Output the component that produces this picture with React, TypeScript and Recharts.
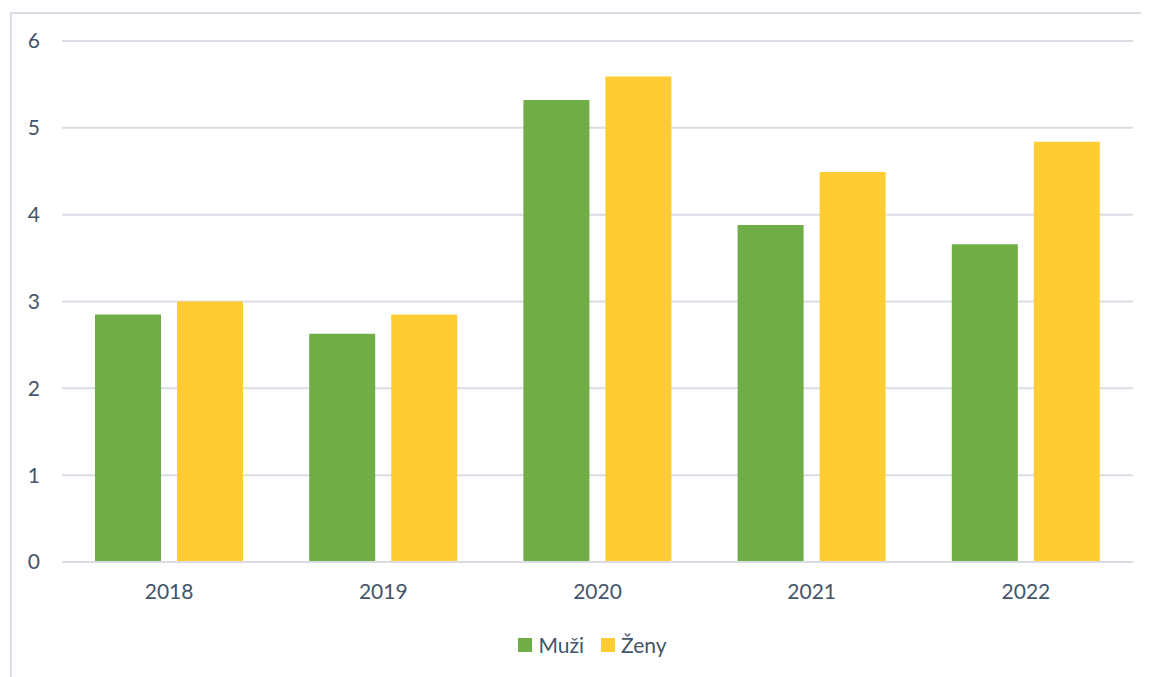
import React from "react";
import { BarChart, Bar, XAxis, YAxis, CartesianGrid, Legend } from "recharts";

const years = ["2018", "2019", "2020", "2021", "2022"];
const muzi = [2.85, 2.63, 5.32, 3.88, 3.66];
const zeny = [3.0, 2.85, 5.59, 4.49, 4.84];
const yTicks = [0, 1, 2, 3, 4, 5, 6];

const textColor = "#44546a";
const gridColor = "#d9dde3";
const font = "Lato, 'Open Sans', sans-serif";

// small custom legend so the spacing matches the Excel look
function LegendContent(props: any) {
  const items = props.payload || [];
  return (
    <div style={{ display: "flex", justifyContent: "center", alignItems: "center" }}>
      {items.map((it: any) => (
        <div key={it.value} style={{ display: "flex", alignItems: "center", marginRight: 17 }}>
          <span style={{ width: 14, height: 14, background: it.color, marginRight: 6, display: "inline-block" }} />
          <span style={{ color: textColor, fontSize: 21, fontFamily: font }}>{it.value}</span>
        </div>
      ))}
    </div>
  );
}

export default function App() {
  const data = years.map((y, i) => ({ year: y, Muži: muzi[i], Ženy: zeny[i] }));

  return (
    <div style={{ position: "relative", width: 1141, height: 669, fontFamily: font }}>
      {/* frame of the exported chart area, only left and top visible */}
      <div
        style={{
          position: "absolute",
          left: 2,
          top: 4,
          width: 1200,
          height: 700,
          borderLeft: `2px solid ${gridColor}`,
          borderTop: `2px solid ${gridColor}`,
        }}
      />
      <div style={{ position: "absolute", left: 0, top: 0 }}>
        <BarChart
          width={1141}
          height={669}
          data={data}
          margin={{ top: 33, right: 16, bottom: 0, left: 0 }}
          barCategoryGap={33}
          barGap={16}
        >
          <CartesianGrid vertical={false} stroke={gridColor} strokeWidth={2} />
          <XAxis
            dataKey="year"
            axisLine={{ stroke: gridColor, strokeWidth: 2 }}
            tickLine={false}
            tickSize={0}
            tickMargin={22}
            height={90}
            tick={{ fill: textColor, fontSize: 21, fontFamily: font }}
          />
          <YAxis
            domain={[0, 6]}
            ticks={yTicks}
            axisLine={false}
            tickLine={false}
            tickSize={0}
            tickMargin={22}
            width={54}
            tick={{ fill: textColor, fontSize: 21, fontFamily: font }}
          />
          <Legend
            verticalAlign="bottom"
            content={<LegendContent />}
            wrapperStyle={{ top: 624, left: 508, width: 170 }}
          />
          <Bar dataKey="Muži" fill="#70ad47" isAnimationActive={false} />
          <Bar dataKey="Ženy" fill="#ffcd33" isAnimationActive={false} />
        </BarChart>
      </div>
    </div>
  );
}
